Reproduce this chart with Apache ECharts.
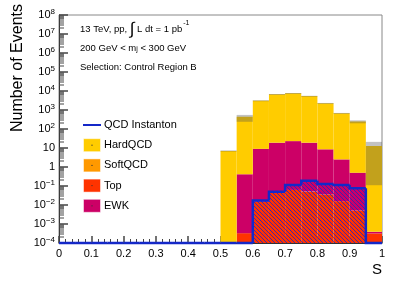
<!DOCTYPE html>
<html><head><meta charset="utf-8">
<script src="https://cdn.jsdelivr.net/npm/echarts@6/dist/echarts.min.js"></script>
<style>html,body{margin:0;padding:0;background:#fff}#c{width:398px;height:287px}</style>
</head><body><div id="c"></div>
<script>
// ---- data (bins of width 0.05 in S) ----
const binLow   = [0,0.05,0.1,0.15,0.2,0.25,0.3,0.35,0.4,0.45,0.5,0.55,0.6,0.65,0.7,0.75,0.8,0.85,0.9,0.95];
const BIN_W = 0.05;
const topQ     = [0,0,0,0,0,0,0,0,0,0,0,3.3e-4,0.0148,0.045,0.062,0.052,0.036,0.016,0.0052,3.2e-4];
const ewk      = [0,0,0,0,0,0,0,0,0,0,0,0.42,9,19,23,19,8.5,2.5,0.5,7e-5];
const softQCD  = [0,0,0,0,0,0,0,0,0,0,0,0,0,0,0,0,0,0,0,0];
const hardQCD  = [0,0,0,0,0,0,0,0,0,0,7,440,3090,6680,7580,5380,2240,668,250,12.6];
const instanton= [0,0,0,0,0,0,0,0,0,0,0,0,0.017,0.05,0.113,0.19,0.127,0.113,0.076,0];
const bandLo   = [0,0,0,0,0,0,0,0,0,0,6.5,240,2950,6450,7350,5200,2150,640,200,0.11];
const bandHi   = [0,0,0,0,0,0,0,0,0,0,7.5,550,3250,6950,7850,5600,2350,700,285,21];
const xTicks   = [0,0.1,0.2,0.3,0.4,0.5,0.6,0.7,0.8,0.9,1];
const yExpMin = -4, yExpMax = 8;
const legendNames = ['QCD Instanton','HardQCD','SoftQCD','Top','EWK'];
const infoLines = ['13 TeV, pp, {i|\u222B} L dt = 1 pb{s|-1}','200 GeV < m{u|j} < 300 GeV','Selection: Control Region B'];
const yTitle = 'Number of Events';
const xTitle = 'S';

// ---- styles ----
const COL = {inst:'#1428c8', hard:'#ffcc00', soft:'#ff9900', top:'#ff3300', ewk:'#cc0066'};
const FLOOR = Math.pow(10, yExpMin);
const FONT = 'Liberation Sans, Arial, Helvetica, sans-serif';
const TICK = '#444';

// hatch pattern for instanton fill
const pc = document.createElement('canvas'); pc.width = 4; pc.height = 4;
const g = pc.getContext('2d'); g.strokeStyle = 'rgba(25,35,200,0.8)'; g.lineWidth = 1;
g.beginPath(); g.moveTo(0,0); g.lineTo(4,4); g.moveTo(-2,2); g.lineTo(2,6); g.moveTo(2,-2); g.lineTo(6,2); g.stroke();
const hatch = {image: pc, repeat: 'repeat'};

// stacking: Top, EWK, SoftQCD, HardQCD (bottom to top)
const layers = [[topQ, COL.top], [ewk, COL.ewk], [softQCD, COL.soft], [hardQCD, COL.hard]];
const cum = binLow.map(() => 0);
const stackSeries = layers.map(([arr, color]) => {
  const data = [];
  binLow.forEach((x, i) => {
    const lo = cum[i]; cum[i] += arr[i];
    if (arr[i] > 0) data.push([x, Math.max(lo, FLOOR), cum[i]]);
  });
  return {type:'custom', data, clip:true, z:2, encode:{x:0, y:[1,2]},
    renderItem(params, api){
      const x0 = api.value(0), y0 = api.value(1), y1 = api.value(2);
      const a = api.coord([x0, y1]), b = api.coord([x0 + BIN_W, y0]);
      return {type:'rect', shape:{x:a[0], y:a[1], width:b[0]-a[0], height:b[1]-a[1]}, style:{fill:color}};
    }};
});

const bandData = binLow.map((x,i) => [x, bandLo[i], bandHi[i]]).filter(d => d[2] > 0);
const bandSeries = {type:'custom', data:bandData, clip:true, z:3, encode:{x:0,y:[1,2]},
  renderItem(params, api){
    const a = api.coord([api.value(0), api.value(2)]), b = api.coord([api.value(0)+BIN_W, api.value(1)]);
    return {type:'rect', shape:{x:a[0], y:a[1], width:b[0]-a[0], height:Math.max(1,b[1]-a[1])}, style:{fill:'rgba(80,80,80,0.35)'}};
  }};

const instData = binLow.map((x,i) => [x, Math.max(instanton[i], FLOOR), i > 0 ? Math.max(instanton[i-1], FLOOR) : Math.max(instanton[i], FLOOR)]);
const instSeries = {type:'custom', data:instData, clip:false, z:4, encode:{x:0,y:[1,2]},
  renderItem(params, api){
    const x0 = api.value(0), v = api.value(1), vp = api.value(2);
    const a = api.coord([x0, v]), b = api.coord([x0+BIN_W, v]), p = api.coord([x0, vp]);
    const fl = api.coord([x0, FLOOR]);
    const children = [];
    if (v > FLOOR) children.push({type:'rect', shape:{x:a[0], y:a[1], width:b[0]-a[0], height:fl[1]-a[1]}, style:{fill:hatch}});
    children.push({type:'polyline', shape:{points:[p, a, b]}, style:{stroke:COL.inst, lineWidth:2.5, fill:null}});
    return {type:'group', children};
  }};

// minor log ticks on y axis (2..9 x 10^e), drawn through the axis scale
const minorVals = [];
for (let e = yExpMin; e < yExpMax; e++) for (let m = 2; m <= 9; m++) minorVals.push(m * Math.pow(10, e));
const minorSeries = {type:'custom', data:[[0.5, 1]], clip:false, z:5, encode:{x:0,y:1},
  renderItem(params, api){
    const children = minorVals.map(v => {
      const p = api.coord([0, v]);
      return {type:'rect', shape:{x:p[0], y:Math.round(p[1]) - 0.5, width:5, height:1}, style:{fill:TICK}};
    });
    return {type:'group', children};
  }};

const legendColors = [null, COL.hard, COL.soft, COL.top, COL.ewk];
const graphic = [];
infoLines.forEach((t, i) => graphic.push({type:'text', x:80, y:[29,48,67][i], style:{text:t, fill:'#000', font:'9.5px ' + FONT, verticalAlign:'middle',
  rich:{i:{fontSize:17, fontFamily:FONT, lineHeight:18}, s:{fontSize:7, fontFamily:FONT, verticalAlign:'top', lineHeight:7, padding:[0,0,0,1]}, u:{fontSize:7, fontFamily:FONT, verticalAlign:'bottom', lineHeight:7}}}}));
legendNames.forEach((n, i) => {
  const yc = 125 + i * 20.2;
  if (i === 0) graphic.push({type:'line', shape:{x1:83, y1:yc, x2:101, y2:yc}, style:{stroke:COL.inst, lineWidth:2}});
  else {
    graphic.push({type:'rect', shape:{x:83.5, y:yc-6.5, width:17, height:13}, style:{fill:legendColors[i], stroke:'rgba(255,255,255,0.5)', lineWidth:1}});
    graphic.push({type:'circle', shape:{cx:92, cy:yc, r:0.6}, style:{fill:'#333'}});
  }
  graphic.push({type:'text', x:104, y:yc, style:{text:n, fill:'#000', font:'11px ' + FONT, verticalAlign:'middle'}});
});
graphic.push({type:'text', x:18, y:4, rotation:Math.PI/2, style:{text:yTitle, fill:'#000', font:'16px ' + FONT, align:'right', verticalAlign:'middle'}});
graphic.push({type:'text', x:382, y:270, style:{text:xTitle, fill:'#000', font:'15px ' + FONT, align:'right', verticalAlign:'middle'}});

const chart = echarts.init(document.getElementById('c'), null, {renderer:'canvas'});
chart.setOption({
  animation:false,
  grid:{left:59, right:16, top:15, bottom:44, show:true, borderColor:'#888', borderWidth:1},
  xAxis:{type:'value', min:0, max:1, interval:0.1,
    axisLine:{show:true, onZero:false, lineStyle:{color:'#333', width:1}},
    axisTick:{show:true, inside:true, length:7, lineStyle:{color:TICK, width:1.5}},
    minorTick:{show:true, splitNumber:5, length:4, lineStyle:{color:TICK, width:1}},
    splitLine:{show:false},
    axisLabel:{color:'#000', fontSize:11, fontFamily:FONT, margin:5, formatter:v => xTicks.includes(Math.round(v*10)/10) ? String(Math.round(v*10)/10) : ''}},
  yAxis:{type:'log', logBase:10, min:FLOOR, max:Math.pow(10,yExpMax), interval:1,
    axisLine:{show:true, lineStyle:{color:'#333', width:1}},
    axisTick:{show:true, inside:true, length:9, lineStyle:{color:TICK, width:1.5}},
    splitLine:{show:false},
    axisLabel:{color:'#000', fontSize:11, fontFamily:FONT, margin:4, showMinLabel:true, showMaxLabel:true,
      formatter:v => { const e = Math.round(Math.log10(v)); if (e === 0) return '{b|1}'; if (e === 1) return '{b|10}'; return '{b|10}{s|' + (e < 0 ? '\u2212' + (-e) : e) + '}'; },
      rich:{b:{fontSize:11, fontFamily:FONT, lineHeight:14}, s:{fontSize:8, fontFamily:FONT, verticalAlign:'top', lineHeight:8}}}},
  series:[...stackSeries, bandSeries, instSeries, minorSeries],
  graphic
});
</script></body></html>
